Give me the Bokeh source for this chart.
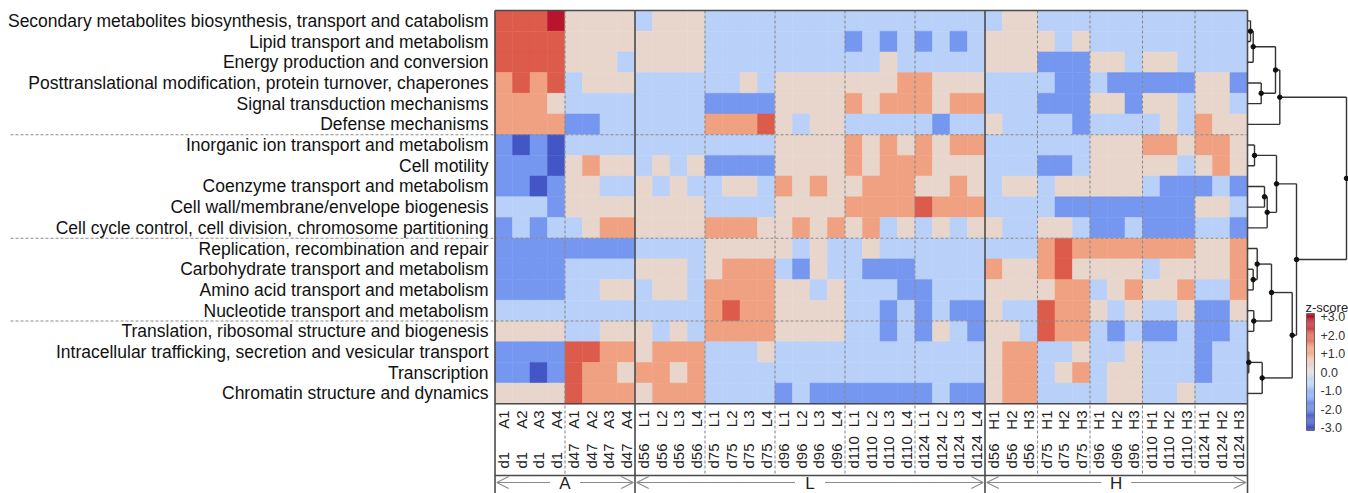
import numpy as np
from bokeh.plotting import figure
from bokeh.models import Range1d, ColumnDataSource, LinearColorMapper, Arrow, OpenHead
from bokeh.core.properties import value
from bokeh.embed import file_html
from bokeh.resources import INLINE

# ---------------- data ----------------
categories = [
    "Secondary metabolites biosynthesis, transport and catabolism",
    "Lipid transport and metabolism",
    "Energy production and conversion",
    "Posttranslational modification, protein turnover, chaperones",
    "Signal transduction mechanisms",
    "Defense mechanisms",
    "Inorganic ion transport and metabolism",
    "Cell motility",
    "Coenzyme transport and metabolism",
    "Cell wall/membrane/envelope biogenesis",
    "Cell cycle control, cell division, chromosome partitioning",
    "Replication, recombination and repair",
    "Carbohydrate transport and metabolism",
    "Amino acid transport and metabolism",
    "Nucleotide transport and metabolism",
    "Translation, ribosomal structure and biogenesis",
    "Intracellular trafficking, secretion and vesicular transport",
    "Transcription",
    "Chromatin structure and dynamics",
]
row_cluster_sizes = [6, 5, 4, 4]

groups = ["A", "L", "H"]
days_A = ["d1", "d47"]
reps_A = ["A1", "A2", "A3", "A4"]
days_L = ["d56", "d75", "d96", "d110", "d124"]
reps_L = ["L1", "L2", "L3", "L4"]
days_H = ["d56", "d75", "d96", "d110", "d124"]
reps_H = ["H1", "H2", "H3"]

# z-scores, one row per category
z_A = [
    [2, 2, 2, 2.8, .3, .3, .3, .3],
    [2, 2, 2, 2, .3, .3, .3, .3],
    [2, 2, 2, 2, .3, .3, .3, -.6],
    [1.2, 2, 1.2, 2, -.6, .3, .3, .3],
    [1.2, 1.2, 1.2, .3, -.6, -.6, -.6, -.6],
    [1.2, 1.2, 1.2, 1.2, -1.5, -1.5, -.6, -.6],
    [-1.5, -2.5, -1.5, -2.5, -.6, -.6, -.6, -.6],
    [-1.5, -1.5, -1.5, -2.5, .3, 1.2, .3, .3],
    [-1.5, -1.5, -2.5, -1.5, .3, .3, -.6, -.6],
    [-.6, -.6, -.6, -1.5, .3, .3, .3, .3],
    [-1.5, -.6, -1.5, -.6, -.6, .3, 1.2, 1.2],
    [-1.5, -1.5, -1.5, -1.5, -1.5, -1.5, -1.5, -1.5],
    [-1.5, -1.5, -1.5, -1.5, -.6, -.6, -.6, -.6],
    [-1.5, -1.5, -1.5, -1.5, -.6, -.6, .3, .3],
    [-.6, -.6, -.6, -.6, -.6, -.6, -.6, -.6],
    [.3, .3, .3, .3, -.6, -.6, .3, .3],
    [-1.5, -1.5, -1.5, -1.5, 2, 2, 1.2, 1.2],
    [-1.5, -1.5, -2.5, -1.5, 2, 1.2, 1.2, .3],
    [.3, .3, .3, .3, 2, 1.2, 1.2, 1.2],
]
z_L = [
    [-.6, .3, .3, .3, -.6, -.6, -.6, -.6, -.6, -.6, -.6, -.6, -.6, -.6, -.6, -.6, -.6, -.6, -.6, -.6],
    [.3, .3, .3, .3, -.6, -.6, -.6, -.6, -.6, -.6, -.6, -.6, -1.5, -.6, -1.5, -.6, -1.5, -.6, -1.5, -.6],
    [.3, .3, .3, .3, -.6, -.6, -.6, -.6, -.6, -.6, -.6, -.6, -.6, -.6, .3, -.6, -.6, -.6, -.6, -.6],
    [-.6, -.6, -.6, -.6, -.6, -.6, .3, -.6, .3, .3, .3, .3, .3, .3, .3, 1.2, 1.2, .3, .3, .3],
    [-.6, -.6, -.6, -.6, -1.5, -1.5, -1.5, -1.5, .3, .3, .3, .3, 1.2, .3, 1.2, 1.2, 1.2, .3, 1.2, 1.2],
    [-.6, -.6, -.6, -.6, 1.2, 1.2, 1.2, 2, .3, -.6, .3, .3, -.6, -.6, -.6, -.6, -.6, -1.5, -.6, -.6],
    [-.6, -.6, -.6, -.6, -.6, -.6, -.6, -.6, .3, .3, .3, .3, 1.2, .3, 1.2, .3, 1.2, .3, 1.2, 1.2],
    [-.6, .3, -.6, .3, -1.5, -1.5, -1.5, -1.5, .3, .3, .3, .3, 1.2, .3, 1.2, 1.2, 1.2, .3, .3, .3],
    [.3, -.6, .3, -.6, -.6, .3, .3, -.6, 1.2, .3, 1.2, .3, .3, 1.2, 1.2, 1.2, .3, .3, 1.2, .3],
    [.3, .3, .3, .3, -.6, -.6, -.6, -.6, .3, .3, .3, .3, 1.2, 1.2, 1.2, 1.2, 2, 1.2, 1.2, 1.2],
    [.3, .3, .3, .3, 1.2, 1.2, 1.2, .3, .3, 1.2, .3, 1.2, .3, 1.2, -.6, .3, -.6, .3, -.6, .3],
    [-.6, -.6, -.6, -.6, .3, .3, .3, .3, .3, -.6, .3, -.6, -.6, .3, -.6, -.6, -.6, -.6, -.6, -.6],
    [.3, .3, .3, -.6, .3, 1.2, 1.2, 1.2, -.6, -1.5, .3, -.6, -.6, -1.5, -1.5, -1.5, -.6, -.6, -.6, -.6],
    [-.6, .3, .3, -.6, 1.2, 1.2, 1.2, 1.2, .3, .3, -.6, .3, -.6, -.6, -.6, -1.5, -1.5, -.6, -.6, -.6],
    [-.6, -.6, -.6, -.6, 1.2, 2, 1.2, 1.2, .3, .3, .3, .3, -.6, -.6, -1.5, -.6, -1.5, -.6, -1.5, -1.5],
    [.3, -.6, .3, -.6, 1.2, 1.2, 1.2, 1.2, .3, .3, .3, .3, -.6, -.6, -1.5, -.6, -1.5, .3, -.6, -1.5],
    [.3, 1.2, 1.2, 1.2, -.6, -.6, -.6, .3, -.6, -.6, -.6, -.6, -.6, -.6, -.6, -.6, -.6, -.6, -.6, -.6],
    [1.2, 1.2, .3, 1.2, -.6, -.6, -.6, -.6, -.6, -.6, -.6, -.6, -.6, -.6, -.6, -.6, -.6, -.6, -.6, -.6],
    [.3, 1.2, 1.2, 1.2, -.6, -.6, -.6, -.6, -1.5, -.6, -1.5, -1.5, -1.5, -1.5, -1.5, -1.5, -1.5, -.6, -1.5, -1.5],
]
z_H = [
    [-.6, .3, .3, -.6, -.6, -.6, -.6, -.6, -.6, -.6, -.6, -.6, -.6, -.6, -.6],
    [.3, .3, .3, .3, -.6, .3, -.6, -.6, -.6, -.6, -.6, -.6, -.6, -.6, -.6],
    [.3, .3, .3, -1.5, -1.5, -1.5, .3, .3, -.6, .3, .3, -.6, -.6, -.6, -.6],
    [-.6, -.6, -.6, -.6, -1.5, -1.5, -.6, -1.5, -1.5, -1.5, -1.5, -1.5, .3, .3, -1.5],
    [-.6, -.6, -.6, -1.5, -1.5, -1.5, .3, .3, -1.5, .3, .3, -.6, .3, .3, -.6],
    [.3, -.6, -.6, -.6, -.6, -1.5, -.6, -.6, -.6, -.6, .3, -.6, 1.2, .3, .3],
    [-.6, -.6, -.6, -.6, -.6, -.6, .3, .3, .3, 1.2, 1.2, .3, 1.2, 1.2, .3],
    [-.6, -.6, -.6, -1.5, -1.5, -.6, .3, .3, .3, .3, .3, -.6, .3, 1.2, .3],
    [-.6, .3, .3, -.6, .3, .3, .3, .3, .3, -.6, -1.5, -1.5, -1.5, -.6, -1.5],
    [-.6, -.6, -.6, -.6, -1.5, -1.5, -1.5, -1.5, -1.5, -1.5, -1.5, -1.5, .3, .3, -.6],
    [.3, -.6, -.6, .3, .3, -.6, -1.5, -1.5, -.6, -1.5, -1.5, -1.5, -.6, -.6, -1.5],
    [-.6, -.6, -.6, 1.2, 2, 1.2, 1.2, 1.2, 1.2, 1.2, 1.2, 1.2, .3, .3, 1.2],
    [1.2, .3, .3, 1.2, 2, .3, .3, .3, .3, -.6, .3, .3, .3, .3, 1.2],
    [.3, .3, .3, .3, 1.2, 1.2, -.6, .3, 1.2, .3, .3, 1.2, -.6, -.6, 1.2],
    [.3, -.6, -.6, 2, 1.2, 1.2, .3, -.6, .3, -.6, -.6, .3, -1.5, -1.5, .3],
    [.3, .3, -.6, 2, 1.2, 1.2, -.6, -1.5, -.6, -1.5, -1.5, -.6, -1.5, -1.5, -.6],
    [.3, 1.2, 1.2, -.6, -.6, .3, -.6, -.6, .3, -.6, -.6, -.6, -1.5, -.6, -.6],
    [.3, 1.2, 1.2, -.6, .3, 1.2, -.6, .3, .3, -.6, -.6, -.6, -1.5, -.6, -.6],
    [.3, 1.2, 1.2, -.6, -.6, -.6, -.6, .3, .3, -.6, -.6, .3, -.6, -.6, -.6],
]

# row dendrogram (scipy-style merges: leaf ids 0..18, new nodes 19..), heights as distances
dendro_merges = [
    (0, 1, 3.0), (19, 2, 5.7), (3, 4, 13.7), (20, 21, 28.0), (22, 5, 32.3),
    (6, 7, 7.0), (8, 9, 17.0), (25, 10, 19.7), (24, 26, 29.0),
    (12, 13, 5.7), (11, 28, 9.7), (14, 15, 6.3), (29, 30, 24.0),
    (16, 17, 1.3), (32, 18, 14.7), (31, 33, 44.7), (27, 34, 49.0), (23, 35, 99.0),
]

colorbar_ticks = [3, 2, 1, 0, -1, -2, -3]
colorbar_labels = ["+3.0", "+2.0", "+1.0", "0.0", "-1.0", "-2.0", "-3.0"]

# ---------------- layout constants ----------------
COLW, ROWH = 17.5, 20.7          # px per column / row
X0, Y0 = 494.5, 10.0             # heatmap top-left (page px)
W, H = 1348, 493


def xd(px):
    return (px - X0) / COLW


def yd(py):
    return (py - Y0) / ROWH


columns = []
for g, days, reps in [("A", days_A, reps_A), ("L", days_L, reps_L), ("H", days_H, reps_H)]:
    for d in days:
        for r in reps:
            columns.append((g, d, r))
ncol, nrow = len(columns), len(categories)
Z = np.hstack([np.array(z_A), np.array(z_L), np.array(z_H)])

# colour map (coolwarm-like, tuned to the picture)
anchors = [(-3.0, "#3b4cc0"), (-2.5, "#4256c6"), (-1.5, "#7597ef"), (-0.6, "#b9d0f9"),
           (0.0, "#dcdcdc"), (0.3, "#e8d6cc"), (1.2, "#f0a282"), (2.0, "#dd5c4b"),
           (2.8, "#b8162c"), (3.0, "#b40426")]
av = [a[0] for a in anchors]
rgb = np.array([[int(c[i:i + 2], 16) for i in (1, 3, 5)] for _, c in anchors], float)
grid = np.linspace(-3, 3, 256)
palette = ["#%02x%02x%02x" % tuple(int(round(np.interp(g, av, rgb[:, k]))) for k in range(3)) for g in grid]
mapper = LinearColorMapper(palette=palette, low=-3, high=3)

p = figure(width=W, height=H, output_backend="svg", toolbar_location=None,
           x_range=Range1d(xd(0), xd(W)), y_range=Range1d(yd(H), yd(0)),
           x_axis_location=None, y_axis_location=None, min_border=0,
           outline_line_color=None, background_fill_color="white")
p.grid.visible = False

FONT = value("Liberation Sans")

# heatmap
xs, ys, zs = [], [], []
for r in range(nrow):
    for c in range(ncol):
        xs.append(c + 0.5)
        ys.append(r + 0.5)
        zs.append(Z[r, c])
src = ColumnDataSource(dict(x=xs, y=ys, z=zs))
p.rect(x="x", y="y", width=1, height=1, source=src,
       fill_color={"field": "z", "transform": mapper},
       line_color={"field": "z", "transform": mapper}, line_width=0.5)

# separators
y_lab_bottom = yd(475)
y_bottom = yd(H)
day_bounds = [i for i in range(1, ncol)
              if columns[i][0] == columns[i - 1][0] and columns[i][1] != columns[i - 1][1]]
p.segment(x0=day_bounds, x1=day_bounds, y0=[0] * len(day_bounds), y1=[y_lab_bottom] * len(day_bounds),
          line_color="#8a8a8a", line_width=1.1, line_dash="3 2")
row_bounds = list(np.cumsum(row_cluster_sizes)[:-1])
p.segment(x0=[xd(10)] * len(row_bounds), x1=[ncol] * len(row_bounds), y0=row_bounds, y1=row_bounds,
          line_color="#8a8a8a", line_width=1.1, line_dash="3 2")
grp_bounds = [0] + [i for i in range(1, ncol) if columns[i][0] != columns[i - 1][0]] + [ncol]
p.segment(x0=grp_bounds, x1=grp_bounds, y0=[0] * len(grp_bounds), y1=[y_bottom] * len(grp_bounds),
          line_color="#4a4a4a", line_width=1.6)
p.segment(x0=[0, 0, 0], x1=[ncol] * 3, y0=[0, nrow, y_lab_bottom], y1=[0, nrow, y_lab_bottom],
          line_color="#4a4a4a", line_width=1.6)

# row labels
p.text(x=[xd(488)] * nrow, y=[r + 0.5 for r in range(nrow)], text=categories,
       text_align="right", text_baseline="middle", text_font=FONT,
       text_font_size="17.5px", text_color="#111111")

# column labels (rotated)
cx = [c + 0.5 for c in range(ncol)]
p.text(x=cx, y=[yd(410)] * ncol, text=[c[2] for c in columns], angle=np.pi / 2,
       text_align="right", text_baseline="middle", text_font=FONT,
       text_font_size="15px", text_color="#222222")
p.text(x=cx, y=[yd(468)] * ncol, text=[c[1] for c in columns], angle=np.pi / 2,
       text_align="left", text_baseline="middle", text_font=FONT,
       text_font_size="15px", text_color="#222222")

# group arrows
ya = yd(482)
gap = 15 / COLW
for gi, g in enumerate(groups):
    a, b = grp_bounds[gi], grp_bounds[gi + 1]
    mid = (a + b) / 2
    for xs0, xe in ((mid - gap, a + 0.1), (mid + gap, b - 0.1)):
        p.add_layout(Arrow(end=OpenHead(size=12, line_color="#8a8a8a", line_width=1.2),
                           x_start=xs0, y_start=ya, x_end=xe, y_end=ya,
                           line_color="#8a8a8a", line_width=1.2))
p.text(x=[(grp_bounds[i] + grp_bounds[i + 1]) / 2 for i in range(3)], y=[yd(482.5)] * 3, text=groups,
       text_align="center", text_baseline="middle", text_font=FONT,
       text_font_size="17px", text_color="#222222")

# dendrogram
node_x = {i: float(ncol) for i in range(nrow)}
node_y = {i: i + 0.5 for i in range(nrow)}
seg_x0, seg_x1, seg_y0, seg_y1 = [], [], [], []
dot_x, dot_y = [], []
for k, (a, b, h) in enumerate(dendro_merges):
    nid = nrow + k
    hx = ncol + h / COLW
    for ch in (a, b):
        seg_x0.append(node_x[ch]); seg_x1.append(hx)
        seg_y0.append(node_y[ch]); seg_y1.append(node_y[ch])
    seg_x0.append(hx); seg_x1.append(hx)
    seg_y0.append(node_y[a]); seg_y1.append(node_y[b])
    node_x[nid] = hx
    node_y[nid] = (node_y[a] + node_y[b]) / 2
    dot_x.append(hx); dot_y.append(node_y[nid])
p.segment(x0=seg_x0, x1=seg_x1, y0=seg_y0, y1=seg_y1, line_color="#333333", line_width=1.4)
p.scatter(x=dot_x, y=dot_y, size=4.5, color="#111111")

# colour scale legend (gradient drawn from the same mapper)
CB_MID, CB_UNIT = 371.5, 18.5     # page y of z=0, px per z unit
cb_x = xd(1310)


def cb_y(v):
    return yd(CB_MID - v * CB_UNIT)


cb_vals = np.linspace(-3.15, 3.15, 127)
step = cb_vals[1] - cb_vals[0]
cb_src = ColumnDataSource(dict(x=[cb_x] * len(cb_vals), y=[cb_y(v) for v in cb_vals], z=list(cb_vals)))
p.rect(x="x", y="y", width=8 / COLW, height=step * CB_UNIT / ROWH * 1.05, source=cb_src,
       fill_color={"field": "z", "transform": mapper}, line_color=None)
p.rect(x=[cb_x], y=[cb_y(0)], width=8 / COLW, height=6.3 * CB_UNIT / ROWH,
       fill_color=None, line_color="#666666", line_width=1)
p.text(x=[xd(1320)] * len(colorbar_ticks), y=[cb_y(v) for v in colorbar_ticks], text=colorbar_labels,
       text_align="left", text_baseline="middle", text_font=FONT,
       text_font_size="12.5px", text_color="#333333")
p.text(x=[xd(1305)], y=[yd(307)], text=["z-score"], text_align="left", text_baseline="middle",
       text_font=FONT, text_font_size="13px", text_color="#222222")

open("out.html", "w").write(file_html(p, INLINE))
